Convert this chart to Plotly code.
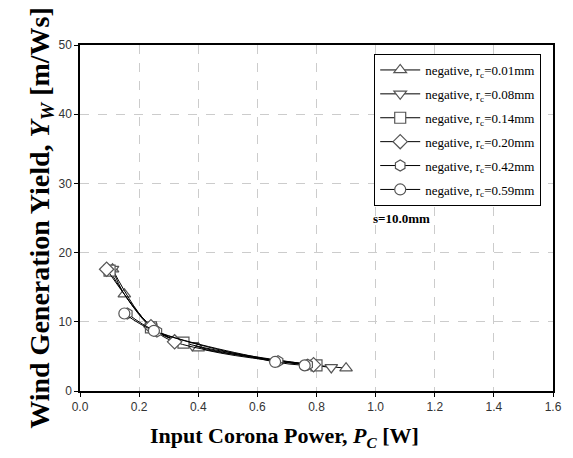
import plotly.graph_objects as go

labels = ["0.01", "0.08", "0.14", "0.20", "0.42", "0.59"]
symbols = ["triangle-up", "triangle-down", "square", "diamond", "hexagon", "circle"]

x_001 = [0.11, 0.15, 0.25, 0.40, 0.90]
y_001 = [17.6, 14.0, 9.1, 6.2, 3.3]
x_008 = [0.11, 0.24, 0.38, 0.85]
y_008 = [17.6, 9.3, 6.6, 3.4]
x_014 = [0.10, 0.24, 0.35, 0.80]
y_014 = [17.4, 9.2, 7.0, 3.7]
x_020 = [0.09, 0.24, 0.32, 0.79]
y_020 = [17.6, 9.3, 7.1, 3.8]
x_042 = [0.16, 0.26, 0.67, 0.77]
y_042 = [11.2, 8.6, 4.3, 3.8]
x_059 = [0.15, 0.25, 0.66, 0.76]
y_059 = [11.2, 8.7, 4.2, 3.7]

xs = [x_001, x_008, x_014, x_020, x_042, x_059]
ys = [y_001, y_008, y_014, y_020, y_042, y_059]

x_ticks = [0.0, 0.2, 0.4, 0.6, 0.8, 1.0, 1.2, 1.4, 1.6]
y_ticks = [0, 10, 20, 30, 40, 50]

fig = go.Figure()
for i, (lab, sym) in enumerate(zip(labels, symbols)):
    fig.add_trace(go.Scatter(
        x=xs[i], y=ys[i], mode="lines+markers",
        name=f"negative, r<sub>c</sub>={lab}mm",
        legendgroup=f"g{i}",
        line=dict(color="black", width=1, shape="spline"),
        marker=dict(symbol=sym, size=11, color="white",
                    line=dict(color="#555555", width=1.2)),
    ))

fig.add_annotation(x=0.985, y=25, xref="x", yref="y", text="<b>s=10.0mm</b>",
                   showarrow=False, xanchor="left", yanchor="middle",
                   font=dict(family="Liberation Serif", size=13, color="black"))

fig.add_annotation(x=0.433, y=-0.133, xref="paper", yref="paper",
                   text="<b>Input Corona Power, <i>P<sub>C</sub></i> [W]</b>",
                   showarrow=False, xanchor="center", yanchor="middle",
                   font=dict(family="Liberation Serif", size=22, color="black"))

axis_common = dict(showline=True, linecolor="black", linewidth=1.5, mirror=True,
                   ticks="outside", ticklen=4, tickcolor="black",
                   showgrid=True, gridcolor="#cccccc", griddash="dash", gridwidth=1,
                   zeroline=False, automargin=False,
                   tickfont=dict(family="Liberation Sans", size=12, color="#333333"))

fig.update_layout(
    width=573, height=458,
    margin=dict(l=80, r=20, t=45, b=67),
    paper_bgcolor="white", plot_bgcolor="white",
    xaxis=dict(range=[0, 1.6], tickvals=x_ticks, ticktext=[f"{v:.1f}" for v in x_ticks],
               **axis_common),
    yaxis=dict(range=[0, 50], tickvals=y_ticks,
               title=dict(text="Wind Generation Yield, <i>Y<sub>W</sub></i> [m/Ws]",
                          font=dict(family="Liberation Serif", size=28, color="black",
                                    weight="bold"),
                          standoff=0),
               **axis_common),
    legend=dict(x=0.622, y=0.974, xanchor="left", yanchor="top",
                bgcolor="white", bordercolor="black", borderwidth=1,
                font=dict(family="Liberation Serif", size=13, color="black"),
                tracegroupgap=4, itemwidth=40),
    showlegend=True,
)

fig.write_html("out.html", post_script="document.body.style.margin='0';",
               config={"displayModeBar": False})
